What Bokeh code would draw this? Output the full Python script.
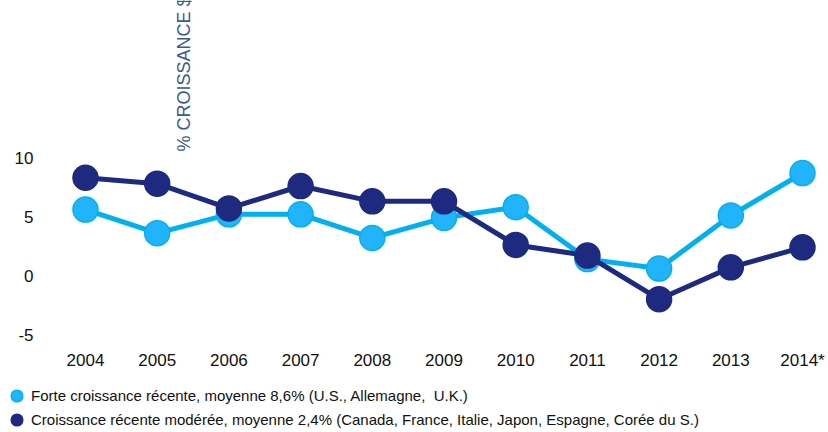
from bokeh.plotting import figure
from bokeh.layouts import column
from bokeh.models import Range1d, FixedTicker, Label, Legend, LegendItem
from bokeh.embed import file_html
from bokeh.resources import INLINE

years = [2004, 2005, 2006, 2007, 2008, 2009, 2010, 2011, 2012, 2013, 2014]
year_labels = ["2004", "2005", "2006", "2007", "2008", "2009", "2010", "2011", "2012", "2013", "2014*"]
forte = [5.6, 3.6, 5.2, 5.2, 3.2, 4.9, 5.8, 1.4, 0.6, 5.1, 8.7]
moderee = [8.3, 7.8, 5.7, 7.6, 6.3, 6.3, 2.6, 1.7, -2.0, 0.7, 2.4]
y_ticks = [-5, 0, 5, 10]
y_tick_labels = ["-5", "0", "5", "10"]
forte_label = "Forte croissance récente, moyenne 8,6% (U.S., Allemagne,  U.K.)"
moderee_label = "Croissance récente modérée, moyenne 2,4% (Canada, France, Italie, Japon, Espagne, Corée du S.)"
axis_title = "% CROISSANCE $"

LIGHT_LINE = "#00b0f0"
LIGHT_FILL = "#22b4fb"
DARK = "#1e2a80"
FONT = "Liberation Sans"

p = figure(width=828, height=372, output_backend="svg", toolbar_location=None,
           x_range=Range1d(2003.512, 2014.223), y_range=Range1d(-5.333, 23.333),
           min_border_left=50, min_border_right=10, min_border_top=0, min_border_bottom=28)
p.outline_line_color = None
p.grid.grid_line_color = None

for ax in (p.xaxis[0], p.yaxis[0]):
    ax.axis_line_color = None
    ax.major_tick_line_color = None
    ax.minor_tick_line_color = None
    ax.major_label_text_font = FONT
    ax.major_label_text_font_size = "17px"
    ax.major_label_text_color = "#111111"

p.xaxis.ticker = FixedTicker(ticks=years)
p.xaxis.major_label_overrides = {y: l for y, l in zip(years, year_labels)}
p.xaxis.major_label_standoff = 6
p.yaxis.ticker = FixedTicker(ticks=y_ticks)
p.yaxis.major_label_overrides = {t: l for t, l in zip(y_ticks, y_tick_labels)}
p.yaxis.major_label_standoff = 11

p.line(years, forte, line_color=LIGHT_LINE, line_width=5)
p.scatter(years, forte, size=25, fill_color=LIGHT_FILL, line_color=LIGHT_LINE, line_width=1.5)
p.line(years, moderee, line_color=DARK, line_width=5)
p.scatter(years, moderee, size=25, fill_color=DARK, line_color=DARK, line_width=1.5)

p.add_layout(Label(x=133, y=187, x_units="screen", y_units="screen", text=axis_title,
                   angle=90, angle_units="deg", text_font=FONT, text_font_size="18px",
                   text_color="#3c5a8c", text_align="left", text_baseline="middle"))

# legend strip under the chart (its own series sit outside its visible range)
lg = figure(width=828, height=60, output_backend="svg", toolbar_location=None,
            x_range=Range1d(0, 1), y_range=Range1d(0, 1), x_axis_type=None, y_axis_type=None,
            min_border_left=0, min_border_right=0, min_border_top=0, min_border_bottom=0)
lg.outline_line_color = None
lg.grid.grid_line_color = None
k1 = lg.scatter(years, forte, fill_color=LIGHT_FILL, line_color=LIGHT_LINE, line_width=1.5)
k2 = lg.scatter(years, moderee, fill_color=DARK, line_color=DARK, line_width=1.5)

def make_legend(label, rend, loc):
    return Legend(items=[LegendItem(label=label, renderers=[rend])],
                  location=loc, orientation="vertical",
                  label_text_font=FONT, label_text_font_size="15px", label_text_color="#111111",
                  glyph_width=29, glyph_height=29, label_height=29, spacing=0,
                  label_standoff=0, padding=0, margin=0,
                  border_line_color=None, background_fill_alpha=0)

lg.add_layout(make_legend(forte_label, k1, (2, 22.5)), "center")
lg.add_layout(make_legend(moderee_label, k2, (2, -1.5)), "center")

for f in (p, lg):
    if "frame_align" in f.properties():
        f.frame_align = False

open("out.html", "w").write(file_html(column(p, lg, spacing=0), INLINE))
